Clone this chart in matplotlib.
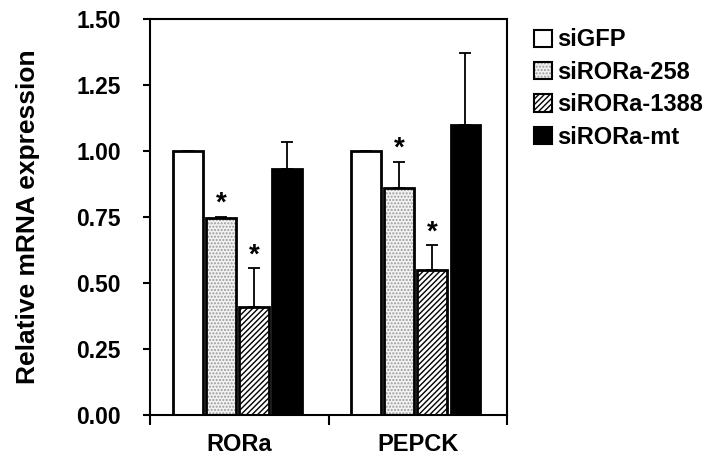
import numpy as np
import matplotlib.pyplot as plt
from matplotlib.patches import Patch

plt.rcParams['font.family'] = ['Liberation Sans', 'DejaVu Sans']
plt.rcParams['hatch.linewidth'] = 1.0

genes = ['RORa', 'PEPCK']
groups = ['siGFP', 'siRORa-258', 'siRORa-1388', 'siRORa-mt']
means = {
    'siGFP':       [1.00, 1.00],
    'siRORa-258':  [0.745, 0.86],
    'siRORa-1388': [0.41, 0.55],
    'siRORa-mt':   [0.93, 1.10],
}
errs = {
    'siGFP':       [0.0, 0.0],
    'siRORa-258':  [0.006, 0.10],
    'siRORa-1388': [0.145, 0.093],
    'siRORa-mt':   [0.105, 0.27],
}
signif = {
    'siGFP':       [False, False],
    'siRORa-258':  [True, True],
    'siRORa-1388': [True, True],
    'siRORa-mt':   [False, False],
}
yticks = [0.0, 0.25, 0.5, 0.75, 1.0, 1.25, 1.5]

styles = {
    'siGFP':       dict(fc='white', hatch=None, hc='black'),
    'siRORa-258':  dict(fc='#f2f2f2', hatch='.....', hc='#9a9a9a'),
    'siRORa-1388': dict(fc='white', hatch='//////', hc='black'),
    'siRORa-mt':   dict(fc='black', hatch=None, hc='black'),
}

fig = plt.figure(figsize=(7.13, 4.57), dpi=100)
ax = fig.add_axes([150/713, 42/457, 357/713, 396/457])

x = np.arange(len(genes))
step = 0.185
width = 0.168
handles = []
for i, g in enumerate(groups):
    pos = x + (i - 1.5) * step - 0.01
    st = styles[g]
    # fill + hatch (hatch colour comes from edgecolor)
    ax.bar(pos, means[g], width, color=st['fc'], hatch=st['hatch'],
           edgecolor=st['hc'], linewidth=0, zorder=2)
    ax.bar(pos, means[g], width, fill=False, edgecolor='black',
           linewidth=2.0, zorder=3)
    e = np.array(errs[g])
    ax.errorbar(pos, means[g], yerr=[np.zeros_like(e), e], fmt='none',
                ecolor='black', elinewidth=1.3, capsize=4, capthick=1.3,
                zorder=1)
    for p, m, ee, s in zip(pos, means[g], e, signif[g]):
        if s:
            ax.annotate('*', (p, m + ee), xytext=(0, 0), textcoords='offset points',
                        ha='center', va='bottom', fontsize=20, fontweight='bold')
    h1 = Patch(facecolor=st['fc'], hatch=st['hatch'], edgecolor=st['hc'], linewidth=0)
    h2 = Patch(fill=False, edgecolor='black', linewidth=1.5)
    handles.append((h1, h2))

ax.set_ylim(0, 1.5)
ax.set_xlim(-0.5, 1.5)
ax.set_yticks(yticks)
ax.set_yticklabels([f'{v:.2f}' for v in yticks])
ax.set_xticks([-0.5, 0.5, 1.5])
ax.set_xticklabels([])
ax.set_xticks(x, minor=True)
ax.set_xticklabels(genes, minor=True)
ax.tick_params(axis='x', which='minor', length=0, pad=13, labelsize=17)
ax.tick_params(axis='x', which='major', length=7, width=1.5, direction='out')
ax.tick_params(axis='y', length=5, width=1.5, direction='out', pad=16, labelsize=16.5)
for lab in ax.get_xticklabels(minor=True) + ax.get_yticklabels():
    lab.set_fontweight('bold')
for sp in ax.spines.values():
    sp.set_linewidth(1.5)

ax.set_ylabel('Relative mRNA expression', fontsize=19, fontweight='bold', labelpad=26)

ax.legend(handles, groups, loc='upper left', bbox_to_anchor=(1.05, 1.0),
          frameon=False, handlelength=0.75, handleheight=0.75, handletextpad=0.2,
          labelspacing=0.4, borderaxespad=0,
          prop=dict(size=17, weight='bold'))

fig.savefig('out.png', dpi=100)
